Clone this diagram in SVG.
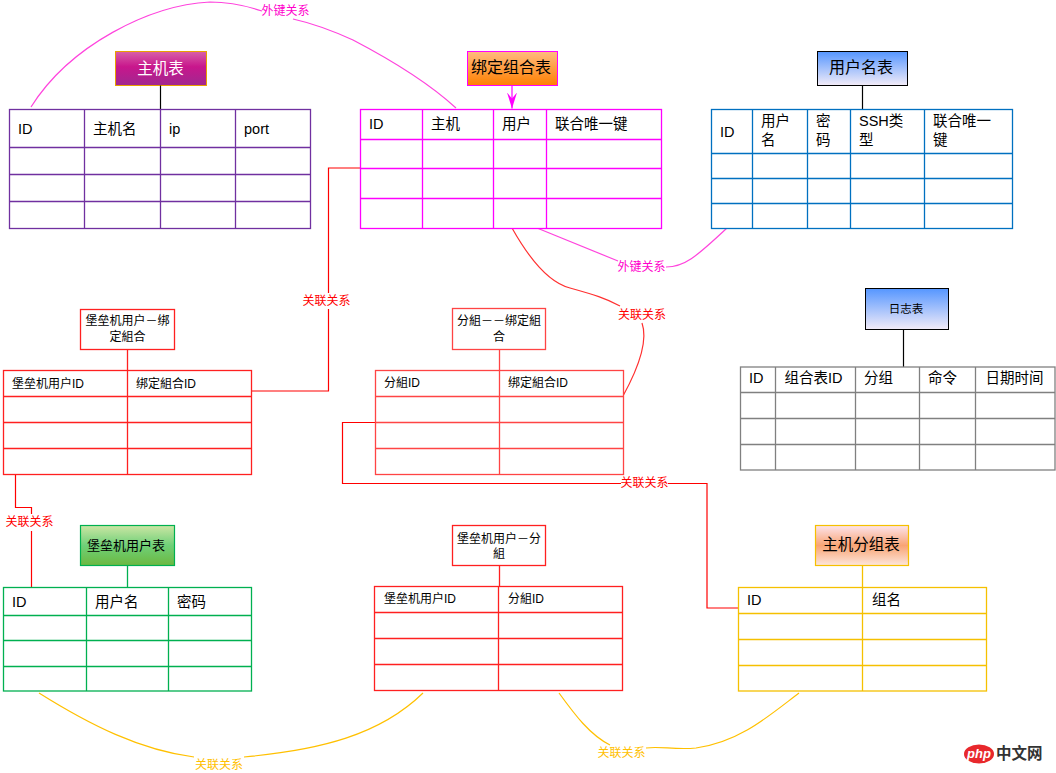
<svg xmlns="http://www.w3.org/2000/svg" width="1056" height="773" viewBox="0 0 1056 773">
<style>
text{font-family:"Liberation Sans","Noto Sans CJK SC",sans-serif;dominant-baseline:central;fill:#000}
.h{font-size:14.5px}
.s{font-size:12px}
.lbl{font-size:12px}
.tbl{fill:#fff;stroke-width:1.3}
.ln{fill:none;stroke-width:1.3}
.con{fill:none;stroke-width:1.2}
</style>
<defs>
<linearGradient id="gMag" x1="0" y1="0" x2="0" y2="1"><stop offset="0" stop-color="#d860a8"/><stop offset="0.45" stop-color="#c8168c"/><stop offset="1" stop-color="#a02890"/></linearGradient>
<linearGradient id="gOra" x1="0" y1="0" x2="0" y2="1"><stop offset="0" stop-color="#ffbb80"/><stop offset="1" stop-color="#ff8000"/></linearGradient>
<linearGradient id="gBlue" x1="0" y1="0" x2="0" y2="1"><stop offset="0" stop-color="#5596ff"/><stop offset="1" stop-color="#f3ecf8"/></linearGradient>
<linearGradient id="gGrn" x1="0" y1="0" x2="0" y2="1"><stop offset="0" stop-color="#cce6a4"/><stop offset="0.5" stop-color="#6fd078"/><stop offset="1" stop-color="#6cb840"/></linearGradient>
<linearGradient id="gPch" x1="0" y1="0" x2="0" y2="1"><stop offset="0" stop-color="#fde4ec"/><stop offset="0.5" stop-color="#f8a474"/><stop offset="1" stop-color="#fde6dc"/></linearGradient>
<marker id="arr" viewBox="0 0 16 10" refX="16" refY="5" markerWidth="16" markerHeight="10" markerUnits="userSpaceOnUse" orient="auto">
<path d="M0,0 L16,5 L0,10 L6,5 Z" fill="#ff00ff"/>
</marker>
</defs>
<rect width="1056" height="773" fill="#fff"/>

<g id="connectors">
  <path class="con" stroke="#ff44dd" d="M31,107 C70,45 150,5 210,2 Q235,2 262,11"/>
  <path class="con" stroke="#ff44dd" d="M293,19 Q320,25 353,40 Q420,75 456,108"/>
  <text class="lbl" x="285.5" y="10.5" text-anchor="middle" style="fill:#ff00cc">外键关系</text>
  <path class="con" stroke="#ff44dd" d="M537,228 L618,261"/>
  <path class="con" stroke="#ff44dd" d="M666,267 C684,267 695,258 727,228"/>
  <text class="lbl" x="641.5" y="266.5" text-anchor="middle" style="fill:#ff00cc">外键关系</text>
  <path class="con" stroke="#ff00ff" d="M512,85 L512,108.5" marker-end="url(#arr)"/>
  <path class="con" stroke="#ff0000" d="M251,391 L328.5,391 L328.5,309"/>
  <path class="con" stroke="#ff0000" d="M328.5,293 L328.5,168 L360,168"/>
  <text class="lbl" x="326.5" y="301" text-anchor="middle" style="fill:#ff0000">关联关系</text>
  <path class="con" stroke="#ff3030" d="M512,228 C530,260 550,283 570,288 C595,295 605,298 620,306"/>
  <path class="con" stroke="#ff3030" d="M642,323 C648,340 640,365 623,396"/>
  <text class="lbl" x="642" y="314.5" text-anchor="middle" style="fill:#ff0000">关联关系</text>
  <path class="con" stroke="#ff0000" d="M15.5,474 L15.5,507.5 L31.5,507.5 L31.5,514"/>
  <path class="con" stroke="#ff0000" d="M31.5,531 L31.5,587"/>
  <text class="lbl" x="29.5" y="522" text-anchor="middle" style="fill:#ff0000">关联关系</text>
  <path class="con" stroke="#ff0000" d="M375.5,422.5 L342.5,422.5 L342.5,483.5 L621,483.5"/>
  <path class="con" stroke="#ff0000" d="M668,483.5 L707,483.5 L707,608 L738,608"/>
  <text class="lbl" x="644.5" y="483" text-anchor="middle" style="fill:#ff0000">关联关系</text>
  <path class="con" stroke="#ffc000" d="M39,693 C90,725 140,750 194,757"/>
  <path class="con" stroke="#ffc000" d="M244,757 C320,750 380,735 423,693"/>
  <text class="lbl" x="219" y="764.5" text-anchor="middle" style="fill:#ffc000">关联关系</text>
  <path class="con" stroke="#ffc000" d="M559,693 C575,715 590,735 610,745"/>
  <path class="con" stroke="#ffc000" d="M646,748 C660,746 675,750 696,748 C740,742 770,715 799,693"/>
  <text class="lbl" x="621.5" y="752.5" text-anchor="middle" style="fill:#ffc000">关联关系</text>
</g>

<g id="host-table">
  <rect x="115.5" y="51.5" width="91" height="34" fill="url(#gMag)" stroke="#e8a000" stroke-width="1"/>
  <text x="160.5" y="68.5" text-anchor="middle" style="font-size:15.5px;fill:#fff">主机表</text>
  <line x1="160.5" y1="85.5" x2="160.5" y2="109.5" stroke="#000" stroke-width="1.2"/>
  <rect class="tbl" x="9.5" y="109.5" width="301" height="119" stroke="#7030a0"/>
  <path class="ln" stroke="#7030a0" d="M84.5,109.5V228.5M160.5,109.5V228.5M235.5,109.5V228.5M9.5,147.5H310.5M9.5,174.5H310.5M9.5,201.5H310.5"/>
  <text class="h" x="18" y="129">ID</text>
  <text class="h" x="93" y="129">主机名</text>
  <text class="h" x="169" y="129">ip</text>
  <text class="h" x="244" y="129">port</text>
</g>

<g id="bind-table">
  <rect x="467.5" y="51.5" width="90" height="34" fill="url(#gOra)" stroke="#ff00ff" stroke-width="1"/>
  <text x="511" y="67" text-anchor="middle" style="font-size:16px">绑定组合表</text>
  <rect class="tbl" x="360.5" y="109.5" width="301" height="119" stroke="#ff00ff"/>
  <path class="ln" stroke="#ff00ff" d="M422.5,109.5V228.5M493.5,109.5V228.5M546.5,109.5V228.5M360.5,139.5H661.5M360.5,168.5H661.5M360.5,198.5H661.5"/>
  <text class="h" x="369" y="123.5">ID</text>
  <text class="h" x="431" y="123.5">主机</text>
  <text class="h" x="502" y="123.5">用户</text>
  <text class="h" x="555" y="123.5">联合唯一键</text>
</g>

<g id="user-table">
  <rect x="817.5" y="51.5" width="90" height="34" fill="url(#gBlue)" stroke="#000" stroke-width="1"/>
  <text x="861" y="67.5" text-anchor="middle" style="font-size:16px">用户名表</text>
  <line x1="862.5" y1="85.5" x2="862.5" y2="109.5" stroke="#000" stroke-width="1.2"/>
  <rect class="tbl" x="711.5" y="109.5" width="301" height="119" stroke="#0070c0"/>
  <path class="ln" stroke="#0070c0" d="M752.5,109.5V228.5M807.5,109.5V228.5M850.5,109.5V228.5M924.5,109.5V228.5M711.5,153.5H1012.5M711.5,178.5H1012.5M711.5,203.5H1012.5"/>
  <text class="h" x="720" y="132">ID</text>
  <text class="h" x="761" y="121">用户</text>
  <text class="h" x="761" y="140">名</text>
  <text class="h" x="816" y="121">密</text>
  <text class="h" x="816" y="140">码</text>
  <text class="h" x="859" y="121">SSH类</text>
  <text class="h" x="859" y="140">型</text>
  <text class="h" x="933" y="121">联合唯一</text>
  <text class="h" x="933" y="140">键</text>
</g>

<g id="log-table">
  <rect x="865.5" y="288.5" width="83" height="41" fill="url(#gBlue)" stroke="#000" stroke-width="1"/>
  <text x="906" y="309" text-anchor="middle" style="font-size:11.5px">日志表</text>
  <line x1="903.5" y1="329.5" x2="903.5" y2="367" stroke="#000" stroke-width="1.2"/>
  <rect class="tbl" x="740.5" y="367" width="314.5" height="103" stroke="#808080"/>
  <path class="ln" stroke="#808080" d="M775.5,367V470M855.5,367V470M919.5,367V470M975.5,367V470M740.5,392.5H1055M740.5,418.5H1055M740.5,444.5H1055"/>
  <text class="h" x="749" y="378">ID</text>
  <text class="h" x="784.5" y="378">组合表ID</text>
  <text class="h" x="864" y="378">分组</text>
  <text class="h" x="928" y="378">命令</text>
  <text class="h" x="985.5" y="378">日期时间</text>
</g>

<g id="bastion-bind-table">
  <rect x="80.5" y="309.5" width="94" height="40" fill="#fff" stroke="#ff2020" stroke-width="1.3"/>
  <text class="s" x="127.5" y="321" text-anchor="middle">堡垒机用户－绑</text>
  <text class="s" x="127.5" y="337" text-anchor="middle">定組合</text>
  <line x1="127.5" y1="349.5" x2="127.5" y2="370.5" stroke="#ff2020" stroke-width="1.3"/>
  <rect class="tbl" x="3.5" y="370.5" width="248" height="104" stroke="#ff2020"/>
  <path class="ln" stroke="#ff2020" d="M127.5,370.5V474.5M3.5,396.5H251.5M3.5,422.5H251.5M3.5,448.5H251.5"/>
  <text class="s" x="12" y="383.5">堡垒机用户ID</text>
  <text class="s" x="136" y="383.5">绑定組合ID</text>
</g>

<g id="group-bind-table">
  <rect x="452.5" y="308.5" width="93" height="41" fill="#fff" stroke="#ff4444" stroke-width="1.3"/>
  <text class="s" x="499" y="321" text-anchor="middle">分組－－绑定組</text>
  <text class="s" x="499" y="337" text-anchor="middle">合</text>
  <line x1="499.5" y1="349.5" x2="499.5" y2="370.5" stroke="#ff4444" stroke-width="1.3"/>
  <rect class="tbl" x="375.5" y="370.5" width="248" height="104" stroke="#ff4444"/>
  <path class="ln" stroke="#ff4444" d="M499.5,370.5V474.5M375.5,396.5H623.5M375.5,422.5H623.5M375.5,448.5H623.5"/>
  <text class="s" x="384" y="383">分組ID</text>
  <text class="s" x="508" y="383">绑定組合ID</text>
</g>

<g id="bastion-user-table">
  <rect x="80.5" y="525.5" width="94" height="40" fill="url(#gGrn)" stroke="#00b050" stroke-width="1.2"/>
  <text x="126" y="545.5" text-anchor="middle" style="font-size:13px">堡垒机用户表</text>
  <line x1="127.5" y1="565.5" x2="127.5" y2="587.5" stroke="#00b050" stroke-width="1.3"/>
  <rect class="tbl" x="3.5" y="587.5" width="248" height="103.5" stroke="#00b050"/>
  <path class="ln" stroke="#00b050" d="M86.5,587.5V691M168.5,587.5V691M3.5,615.5H251.5M3.5,640.5H251.5M3.5,666.5H251.5"/>
  <text class="h" x="12" y="602">ID</text>
  <text class="h" x="95" y="602">用户名</text>
  <text class="h" x="177" y="602">密码</text>
</g>

<g id="bastion-group-table">
  <rect x="452.5" y="525.5" width="93" height="40" fill="#fff" stroke="#ff2020" stroke-width="1.3"/>
  <text class="s" x="499" y="538.5" text-anchor="middle">堡垒机用户－分</text>
  <text class="s" x="499" y="554" text-anchor="middle">組</text>
  <line x1="499.5" y1="565.5" x2="499.5" y2="587" stroke="#ff2020" stroke-width="1.3"/>
  <rect class="tbl" x="374.5" y="586.5" width="248" height="104" stroke="#ff2020"/>
  <path class="ln" stroke="#ff2020" d="M498.5,586.5V690.5M374.5,612.5H622.5M374.5,638.5H622.5M374.5,664.5H622.5"/>
  <text class="s" x="384" y="598.5">堡垒机用户ID</text>
  <text class="s" x="508" y="598.5">分組ID</text>
</g>

<g id="host-group-table">
  <rect x="815.5" y="525.5" width="93" height="40" fill="url(#gPch)" stroke="#f5c000" stroke-width="1.2"/>
  <text x="861" y="544.5" text-anchor="middle" style="font-size:15.5px">主机分组表</text>
  <line x1="862.5" y1="565.5" x2="862.5" y2="587.5" stroke="#f5c000" stroke-width="1.3"/>
  <rect class="tbl" x="738.5" y="587.5" width="248" height="103.5" stroke="#f5c000"/>
  <path class="ln" stroke="#f5c000" d="M862.5,587.5V691M738.5,613.5H986.5M738.5,639.5H986.5M738.5,665.5H986.5"/>
  <text class="h" x="747" y="599.5">ID</text>
  <text class="h" x="872" y="599.5">组名</text>
</g>

<g id="watermark">
  <ellipse cx="979" cy="754" rx="15" ry="9.5" fill="#e8282c"/>
  <text x="979" y="753" text-anchor="middle" style="font-size:13px;fill:#fff;font-style:italic;font-weight:bold">php</text>
  <text x="996" y="753" style="font-size:15.5px;fill:#333;font-weight:bold">中文网</text>
</g>
</svg>
